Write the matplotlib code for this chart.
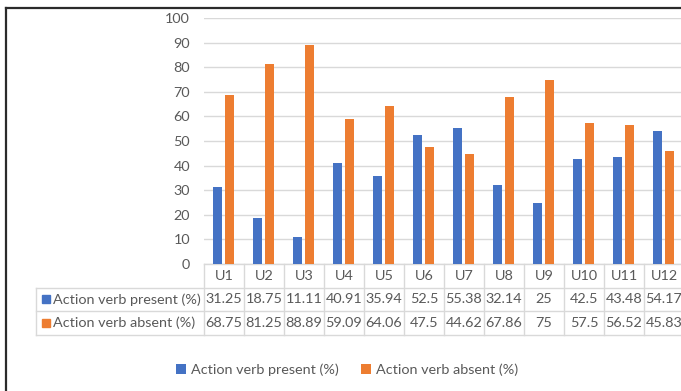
import numpy as np
import matplotlib.pyplot as plt
from matplotlib.lines import Line2D
from matplotlib.transforms import blended_transform_factory

# Share of units with / without an action verb
units = ['U1', 'U2', 'U3', 'U4', 'U5', 'U6', 'U7', 'U8', 'U9', 'U10', 'U11', 'U12']
present = [31.25, 18.75, 11.11, 40.91, 35.94, 52.5, 55.38, 32.14, 25, 42.5, 43.48, 54.17]
absent = [68.75, 81.25, 88.89, 59.09, 64.06, 47.5, 44.62, 67.86, 75, 57.5, 56.52, 45.83]
series_names = ['Action verb present (%)', 'Action verb absent (%)']

BLUE = '#4472C4'
ORANGE = '#ED7D31'
GRID = '#d9d9d9'
TEXT = '#595959'
FS = 10.4

plt.rcParams['font.family'] = ['Lato', 'DejaVu Sans']

W, H = 681, 391
fig = plt.figure(figsize=(W / 100, H / 100), dpi=100)

# plot area: 40 px per unit column, zero line at y=264, 100 at y=18
ax = fig.add_axes([204 / W, (H - 264) / H, 480 / W, 246 / H])

x = np.arange(len(units))
bw = 0.23
ax.bar(x - 0.165, present, bw, color=BLUE, label=series_names[0], zorder=3)
ax.bar(x + 0.135, absent, bw, color=ORANGE, label=series_names[1], zorder=3)

ax.set_xlim(-0.5, len(units) - 0.5)
ax.set_ylim(0, 100)
ax.set_yticks(np.arange(0, 101, 10))
ax.set_xticks([])
ax.tick_params(axis='y', length=0, pad=10, labelsize=FS, labelcolor=TEXT)
ax.grid(axis='y', color=GRID, lw=1, zorder=0)
for s in ax.spines.values():
    s.set_visible(False)

# data table under the bars
tr = blended_transform_factory(ax.transData, ax.transAxes)
rh = 23.5 / 246
left = -0.5 - 168 / 40
right = len(units) - 0.5
line_kw = dict(color=GRID, lw=1, transform=tr, clip_on=False)

ax.add_line(Line2D([-0.5, right], [0, 0], **line_kw))
ax.add_line(Line2D([left, right], [-rh, -rh], **line_kw))
ax.add_line(Line2D([left, right], [-2 * rh, -2 * rh], **line_kw))
ax.add_line(Line2D([left, right], [-3 * rh, -3 * rh], **line_kw))
ax.add_line(Line2D([left, left], [-rh, -3 * rh], **line_kw))
for b in np.arange(-0.5, len(units) + 0.5, 1.0):
    ax.add_line(Line2D([b, b], [0, -3 * rh], **line_kw))

for i, u in enumerate(units):
    ax.text(i, -0.5 * rh, u, transform=tr, ha='center', va='center',
            fontsize=FS, color=TEXT, clip_on=False)
    ax.text(i, -1.5 * rh, f'{present[i]:g}', transform=tr, ha='center', va='center',
            fontsize=FS, color=TEXT, clip_on=False)
    ax.text(i, -2.5 * rh, f'{absent[i]:g}', transform=tr, ha='center', va='center',
            fontsize=FS, color=TEXT, clip_on=False)

for r, (name, col) in enumerate(zip(series_names, [BLUE, ORANGE])):
    yy = -(r + 1.5) * rh
    ax.plot([left + 0.25], [yy], marker='s', ms=6, color=col, transform=tr, clip_on=False)
    ax.text(left + 0.42, yy, name, transform=tr, ha='left', va='center',
            fontsize=FS, color=TEXT, clip_on=False)

fig.legend(loc='center', bbox_to_anchor=(347 / W, (H - 370) / H), ncol=2,
           frameon=False, fontsize=FS, labelcolor=TEXT, handlelength=0.7,
           handleheight=0.7, handletextpad=0.35, columnspacing=1.5)

# outer frame lines along the top and left edges
fig.add_artist(Line2D([5.5 / W, 1], [(H - 8) / H] * 2, color='#2b2b2b', lw=1.6))
fig.add_artist(Line2D([5.5 / W] * 2, [0, (H - 8) / H], color='#2b2b2b', lw=1.6))

fig.savefig('out.png', dpi=100)
